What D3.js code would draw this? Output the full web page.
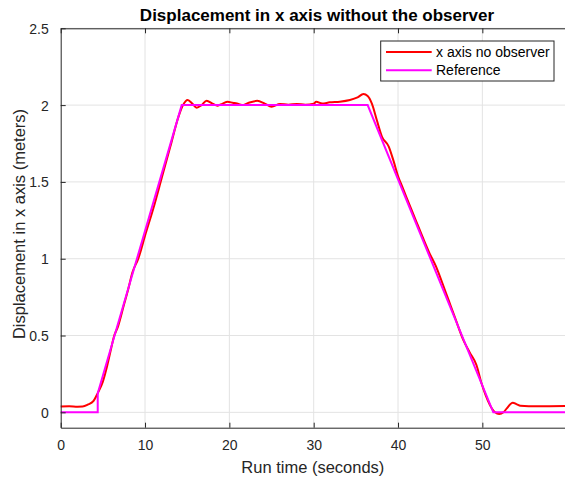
<!DOCTYPE html>
<html><head><meta charset="utf-8">
<script src="https://cdn.jsdelivr.net/npm/d3@7"></script>
<style>body{margin:0;background:#fff}svg{display:block;font-family:"Liberation Sans",Arial,sans-serif}</style>
</head><body>
<svg id="c" width="565" height="479"></svg>
<script>
const title = "Displacement in x axis without the observer";
const xLabel = "Run time (seconds)";
const yLabel = "Displacement in x axis (meters)";
const seriesNames = ["x axis no observer", "Reference"];
const xTicks = [0, 10, 20, 30, 40, 50];
const yTicks = [0, 0.5, 1, 1.5, 2, 2.5];
const xDomain = [0, 59.8];
const yDomain = [-0.1, 2.5];

// Red: measured response (time, displacement)
const measuredT = [0, 1, 2, 2.6, 3.2, 3.9, 4.39, 5, 5.5, 6, 6.3, 6.8, 7.5, 8, 8.5, 9.2, 10, 11, 12, 13, 14, 14.5, 15.06, 15.6, 16.13, 16.7, 17.3, 18, 18.6, 19.2, 19.8, 20.4, 20.9, 21.5, 22.3, 23.3, 24.2, 25, 26, 27, 28, 29, 30, 30.3, 31, 31.9, 33.1, 34.3, 35.2, 35.9, 36.4, 36.9, 37.5, 38.1, 38.9, 39.45, 40.05, 40.5, 41, 42, 43, 43.7, 44.5, 45.2, 46, 46.8, 47.75, 48.5, 49.3, 49.9, 50.4, 50.9, 51.5, 52.0, 52.5, 52.9, 53.6, 54.1, 54.5, 55.5, 59.8];
const measuredY = [0.038, 0.04, 0.037, 0.038, 0.05, 0.075, 0.125, 0.2, 0.3, 0.42, 0.49, 0.56, 0.7, 0.8, 0.91, 1.0, 1.15, 1.33, 1.53, 1.73, 1.93, 2.0, 2.033, 2.01, 1.983, 2.0, 2.029, 2.01, 1.996, 2.01, 2.022, 2.015, 2.01, 2.0, 2.015, 2.028, 2.01, 1.99, 2.007, 2.003, 2.007, 2.003, 2.009, 2.022, 2.01, 2.018, 2.022, 2.033, 2.05, 2.072, 2.06, 2.01, 1.9, 1.794, 1.73, 1.64, 1.53, 1.47, 1.40, 1.265, 1.13, 1.04, 0.95, 0.85, 0.73, 0.61, 0.47, 0.39, 0.308, 0.189, 0.11, 0.047, 0.0, -0.011, 0.0, 0.026, 0.063, 0.052, 0.043, 0.04, 0.041];

// Magenta: reference trajectory
const referenceT = [0, 4.39, 4.39, 14.35, 36.4, 51.3, 59.8];
const referenceY = [0, 0, 0.124, 2, 2, 0, 0];

const svg = d3.select("#c");
const L = 60.7, R = 565, T = 28.3, B = 427.7;
const x = d3.scaleLinear().domain(xDomain).range([L, R]);
const y = d3.scaleLinear().domain(yDomain).range([B, T]);
const axisColor = "#262626";

// grid
svg.append("g").selectAll("line").data(xTicks.filter(d => d > 0)).join("line")
  .attr("x1", d => x(d)).attr("x2", d => x(d)).attr("y1", T).attr("y2", B)
  .attr("stroke", "#e3e3e3").attr("stroke-width", 1);
svg.append("g").selectAll("line").data(yTicks).join("line")
  .attr("x1", L).attr("x2", R).attr("y1", d => y(d)).attr("y2", d => y(d))
  .attr("stroke", "#e3e3e3").attr("stroke-width", 1);

// lines
const line = d3.line().x(d => x(d[0])).y(d => y(d[1])).curve(d3.curveMonotoneX);
const lineLin = d3.line().x(d => x(d[0])).y(d => y(d[1]));
const measured = measuredT.map((t, i) => [t, measuredY[i]]);
const reference = referenceT.map((t, i) => [t, referenceY[i]]);
svg.append("path").datum(measured).attr("d", line)
  .attr("fill", "none").attr("stroke", "#ff0000").attr("stroke-width", 2);
svg.append("path").datum(reference).attr("d", lineLin)
  .attr("fill", "none").attr("stroke", "#ff00ff").attr("stroke-width", 2);

// axes
const xAxisB = d3.axisBottom(x).tickValues(xTicks).tickSizeInner(-5).tickSizeOuter(0).tickPadding(12).tickFormat(d3.format("d"));
const gx = svg.append("g").attr("transform", `translate(0,${B})`).call(xAxisB);
const xAxisT = d3.axisTop(x).tickValues(xTicks).tickSizeInner(-5).tickSizeOuter(0).tickFormat("");
const gxt = svg.append("g").attr("transform", `translate(0,${T})`).call(xAxisT);
const yAxisL = d3.axisLeft(y).tickValues(yTicks).tickSizeInner(-5).tickSizeOuter(0).tickPadding(12).tickFormat(d => d3.format("")(d));
const gy = svg.append("g").attr("transform", `translate(${L},0)`).call(yAxisL);
[gx, gxt, gy].forEach(g => {
  g.select(".domain").attr("stroke", axisColor).attr("stroke-width", 1);
  g.selectAll(".tick line").attr("stroke", axisColor);
  g.selectAll("text").attr("fill", axisColor).style("font-size", "14px").style("font-family", "'Liberation Sans',Arial,sans-serif");
});
gy.selectAll("text").attr("dy", "0.35em");

// title & labels
svg.append("text").attr("x", 317).attr("y", 21).attr("text-anchor", "middle")
  .style("font-size", "17px").style("font-weight", "bold").attr("fill", "#000").text(title);
svg.append("text").attr("x", (L + R) / 2).attr("y", 472.7).attr("text-anchor", "middle")
  .style("font-size", "16.5px").attr("fill", axisColor).text(xLabel);
svg.append("text").attr("transform", `translate(25,${(T + B) / 2 - 4}) rotate(-90)`).attr("text-anchor", "middle")
  .style("font-size", "16.5px").attr("fill", axisColor).text(yLabel);

// legend
const lg = svg.append("g");
lg.append("rect").attr("x", 380.7).attr("y", 41).attr("width", 173.3).attr("height", 40)
  .attr("fill", "#fff").attr("stroke", axisColor).attr("stroke-width", 1);
const colors = ["#ff0000", "#ff00ff"];
seriesNames.forEach((n, i) => {
  const yy = 52 + i * 18.3;
  lg.append("line").attr("x1", 386).attr("x2", 431.7).attr("y1", yy).attr("y2", yy)
    .attr("stroke", colors[i]).attr("stroke-width", 2);
  lg.append("text").attr("x", 436).attr("y", yy).attr("dy", "0.35em")
    .style("font-size", "14px").attr("fill", "#000").text(n);
});
</script>
</body></html>
